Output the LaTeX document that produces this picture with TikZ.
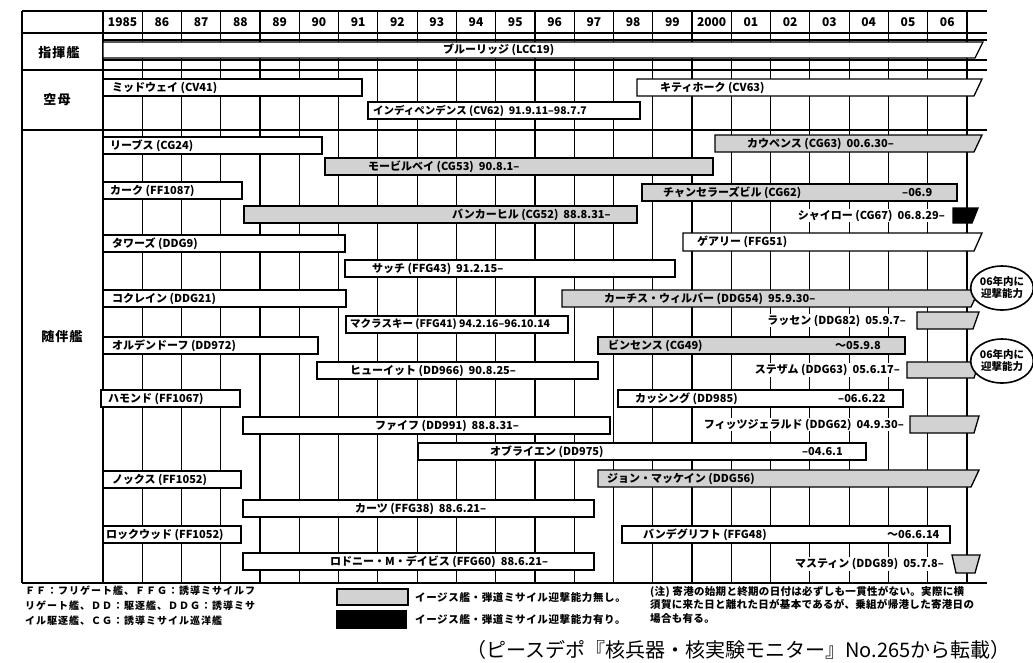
\documentclass[tikz,border=0pt]{standalone}
\usepackage{fontspec}
\setmainfont{Noto Sans CJK JP}
\usetikzlibrary{shapes.geometric}
\newcommand{\chbar}[5][bar]{\draw[#1] (#2,#4) rectangle (#3,#5);}
\newcommand{\chslant}[5][bar]{\draw[#1] (#2,#4) -- ({#3+4},#4) -- ({#3-4},#5) -- (#2,#5) -- cycle;}
\newcommand{\chbox}[6][gbar]{\draw[#1] (#2,#5) -- (#3,#5) -- (#4,#6) -- (#2,#6) -- cycle;}
\begin{document}
\begin{tikzpicture}[x=1pt,y=-1pt,
  gridl/.style={line width=1.2pt},
  bar/.style={draw,line width=1.3pt,fill=white},
  gbar/.style={bar,fill=gray!35},
  kbar/.style={bar,fill=black},
  btxt/.style={font=\bfseries\fontsize{11}{12}\selectfont,anchor=west,inner sep=0pt},
  stxt/.style={btxt,font=\bfseries\fontsize{10.5}{12}\selectfont},
  otxt/.style={btxt,anchor=east,fill=white,inner sep=1pt},
  yr/.style={font=\bfseries\fontsize{12}{12}\selectfont,inner sep=0pt},
  sect/.style={font=\bfseries\fontsize{13}{13}\selectfont\addfontfeature{LetterSpace=8},inner sep=0pt},
  bubble/.style={ellipse,draw,line width=1.6pt,fill=white,inner sep=0pt,minimum width=60pt,minimum height=44pt,align=center,font=\bfseries\fontsize{10.5}{12}\selectfont},
  note/.style={font=\bfseries\fontsize{10}{15}\selectfont\addfontfeature{LetterSpace=10},anchor=north west,inner sep=0pt,align=left},
  legt/.style={btxt,font=\bfseries\fontsize{10.5}{11}\selectfont\addfontfeature{LetterSpace=6}}]
\useasboundingbox (0,0) rectangle (1033,662);
% grid
\foreach \y in {11,33,70,130,583} \draw[gridl] (22,\y) -- (987,\y);
\foreach \y in {40,60} \draw[gridl] (103,\y) -- (987,\y);
\draw[gridl] (22,11) -- (22,583);
\foreach \i in {0,...,22} \draw[gridl] ({103+39.27*\i},11) -- ({103+39.27*\i},583);
\foreach \t [count=\i from 0] in {1985,86,87,88,89,90,91,92,93,94,95,96,97,98,99,2000,01,02,03,04,05,06}
  \node[yr] (y\i) at ({103+39.27*\i+19.6},22) {\t};
% section labels
\node[sect] (s1) at (59,53) {指揮艦};
\node[sect] (s2) at (57,100) {空母};
\node[sect] (s3) at (62,337) {随伴艦};
% bars
\chslant{103}{979}{42}{58}
\node[btxt] (t1) at (443,50) {ブルーリッジ (LCC19)};
\chbar{103}{362}{79}{96}
\node[btxt] (t2) at (112,87.5) {ミッドウェイ (CV41)};
\chslant{637}{978}{79}{96}
\node[btxt] (t3) at (660,87.5) {キティホーク (CV63)};
\chbar{368}{640}{102}{119}
\node[stxt] (t4) at (373,110.5) {インディペンデンス (CV62)\ \ 91.9.11--98.7.7};
\chbar{103}{322}{137}{154}
\node[btxt] (t5) at (110,145.5) {リーブス (CG24)};
\chslant[gbar]{715}{978}{135}{152}
\node[btxt] (t6) at (747,143.5) {カウペンス (CG63)\ \ 00.6.30--};
\chbar[gbar]{325}{713}{158}{175}
\node[btxt] (t7) at (368,166.5) {モービルベイ (CG53)\ \ 90.8.1--};
\chbar{103}{242}{182}{199}
\node[btxt] (t8) at (110,190.5) {カーク (FF1087)};
\chbar[gbar]{642}{957}{184}{201}
\node[btxt] (t9) at (663,192.5) {チャンセラーズビル (CG62)};
\node[btxt] (t9d) at (902,192.5) {--06.9};
\chbar[gbar]{244}{637}{206}{223}
\node[btxt] (t10) at (452,214.5) {バンカーヒル (CG52)\ \ 88.8.31--};
\chbox[kbar]{953}{978}{972}{208}{223}
\node[otxt] (t11) at (946,215.5) {シャイロー (CG67)\ \ 06.8.29--};
\chbar{103}{345}{235}{252}
\node[btxt] (t12) at (112,243.5) {タワーズ (DDG9)};
\chslant{683}{978}{233}{251}
\node[btxt] (t13) at (697,242) {ゲアリー (FFG51)};
\chbar{345}{675}{260}{277}
\node[btxt] (t14) at (372,268.5) {サッチ (FFG43)\ \ 91.2.15--};
\chbar{103}{346}{290}{307}
\node[btxt] (t15) at (112,298.5) {コクレイン (DDG21)};
\chslant[gbar]{562}{975}{290}{307}
\node[btxt] (t16) at (604,298.5) {カーチス・ウィルバー (DDG54)\ \ 95.9.30--};
\chbar{346}{568}{316}{333}
\node[stxt] (t17) at (350,324.5) {マクラスキー (FFG41) 94.2.16--96.10.14};
\chbox{917}{979}{973}{312}{329}
\node[otxt] (t18) at (907,320.5) {ラッセン (DDG82)\ \ 05.9.7--};
\chbar{103}{318}{337}{354}
\node[btxt] (t19) at (112,345.5) {オルデンドーフ (DD972)};
\chbar[gbar]{598}{905}{337}{354}
\node[btxt] (t20) at (608,345.5) {ビンセンス (CG49)};
\node[btxt] (t20d) at (835,345.5) {～05.9.8};
\chbar{317}{598}{362}{379}
\node[btxt] (t21) at (350,370.5) {ヒューイット (DD966)\ \ 90.8.25--};
\chbox{907}{979}{974}{362}{378}
\node[otxt] (t22) at (901,370) {ステザム (DDG63)\ \ 05.6.17--};
\chbar{101}{240}{390}{407}
\node[btxt] (t23) at (108,398.5) {ハモンド (FF1067)};
\chbar{618}{903}{390}{407}
\node[btxt] (t24) at (635,398.5) {カッシング (DD985)};
\node[btxt] (t24d) at (838,398.5) {--06.6.22};
\chbar{243}{610}{417}{434}
\node[btxt] (t25) at (375,425.5) {ファイフ (DD991)\ \ 88.8.31--};
\chbox{910}{979}{974}{416}{433}
\node[otxt] (t26) at (905,424.5) {フィッツジェラルド (DDG62)\ \ 04.9.30--};
\chbar{418}{866}{443}{460}
\node[btxt] (t27) at (490,451.5) {オブライエン (DD975)};
\node[btxt] (t27d) at (802,451.5) {--04.6.1};
\chbar{103}{241}{471}{488}
\node[btxt] (t28) at (112,479.5) {ノックス (FF1052)};
\chslant[gbar]{598}{975}{470}{487}
\node[btxt] (t29) at (607,478.5) {ジョン・マッケイン (DDG56)};
\chbar{243}{594}{500}{517}
\node[btxt] (t30) at (355,508.5) {カーツ (FFG38)\ \ 88.6.21--};
\chbar{103}{241}{526}{543}
\node[btxt] (t31) at (106,534.5) {ロックウッド (FF1052)};
\chbar{622}{950}{526}{543}
\node[btxt] (t32) at (643,534.5) {バンデグリフト (FFG48)};
\node[btxt] (t32d) at (887,534.5) {～06.6.14};
\chbar{243}{594}{553}{570}
\node[btxt] (t33) at (330,561.5) {ロドニー・M・デイビス (FFG60)\ \ 88.6.21--};
\draw[gbar] (952,555) -- (980,555) -- (975,573) -- (956,573) -- cycle;
\node[otxt] (t34) at (945,564) {マスティン (DDG89)\ \ 05.7.8--};
% bubbles
\node[bubble] (b1) at (1002,288) {06年内に\\迎撃能力};
\node[bubble] (b2) at (1002,361) {06年内に\\迎撃能力};
% footer
\node[note] (f1) at (25,586) {ＦＦ：フリゲート艦、ＦＦＧ：誘導ミサイルフ\\リゲート艦、ＤＤ：駆逐艦、ＤＤＧ：誘導ミサ\\イル駆逐艦、ＣＧ：誘導ミサイル巡洋艦};
\draw[gbar] (337,589) rectangle (408,605);
\draw[kbar] (337,611) rectangle (406,628);
\node[legt] (l1) at (415,597) {イージス艦・弾道ミサイル迎撃能力無し。};
\node[legt] (l2) at (415,619) {イージス艦・弾道ミサイル迎撃能力有り。};
\node[note,font=\bfseries\fontsize{10.5}{13.5}\selectfont\addfontfeature{LetterSpace=3}] (n1) at (650,586) {(注) 寄港の始期と終期の日付は必ずしも一貫性がない。実際に横\\須賀に来た日と離れた日が基本であるが、乗組が帰港した寄港日の\\場合も有る。};
\node[anchor=west,inner sep=0pt,font=\fontsize{20}{20}\selectfont] (cap) at (466,650) {（ピースデポ『核兵器・核実験モニター』No.265から転載）};
\end{tikzpicture}
\end{document}
